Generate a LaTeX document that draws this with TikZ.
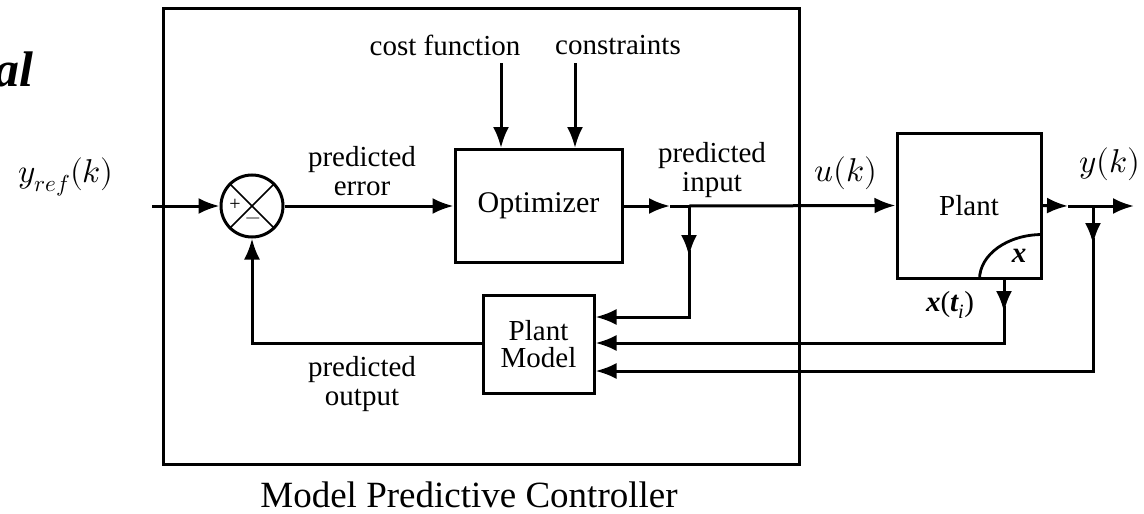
\documentclass[tikz,border=0pt]{standalone}
\usepackage{fontspec}
\usepackage{unicode-math}
\setmainfont{Liberation Serif}
\usetikzlibrary{arrows.meta,calc}
\begin{document}
\begin{tikzpicture}[x=1pt,y=-1pt,
  line width=3pt,
  arr/.style={-{Latex[length=21pt,width=16pt]}},
  blk/.style={draw, line width=3pt, inner sep=0pt},
  lbl/.style={font=\fontsize{29}{29}\selectfont, align=center, inner sep=0pt},
  mlbl/.style={font=\fontsize{33}{33}\selectfont, inner sep=0pt}]
\useasboundingbox (0,0) rectangle (1144,514);
% outer controller box
\node[blk, minimum width=636pt, minimum height=456pt] (mpc) at (481,236) {};
\node[font=\fontsize{37}{37}\selectfont, inner sep=0pt, anchor=base] (mpclbl) at (469,507) {Model Predictive Controller};
% partial title
\node[font=\fontsize{50}{50}\selectfont\bfseries\itshape, anchor=base east, inner sep=0pt] (title) at (35,86) {al};
% blocks
\node[blk, minimum width=167pt, minimum height=113pt, font=\fontsize{30}{30}\selectfont] (opt) at (538.5,206) {Optimizer};
\node[blk, minimum width=111pt, minimum height=98pt, align=center, font=\fontsize{29}{29}\selectfont] (pm) at (538.5,344) {Plant\\[-2pt]Model};
\node[blk, minimum width=144pt, minimum height=145pt, font=\fontsize{29}{29}\selectfont] (plant) at (969,205.5) {Plant};
\node[blk, circle, minimum size=62pt] (sum) at (252,206) {};
\draw[line width=1.6pt] (sum.north west) -- (sum.south east);
\draw[line width=1.6pt] (sum.north east) -- (sum.south west);
\node[font=\fontsize{20}{20}\selectfont, inner sep=0pt] (plus) at (235,205) {+};
\node[font=\fontsize{20}{20}\selectfont, inner sep=0pt] (minus) at (253,221) {$-$};
% arc in plant
\coordinate (arcA) at ($(plant.south east)+(-63,0)$);
\coordinate (arcB) at ($(plant.south east)+(0,-45)$);
\draw[line width=2.8pt] (arcA) .. controls ($(arcA)+(0,-25)$) and ($(arcB)+(-35,0)$) .. (arcB);
\node[font=\fontsize{29}{29}\selectfont\bfseries\itshape, inner sep=0pt] (xlbl) at (1019,256) {x};
% coordinates
\coordinate (in) at (152,206);
\coordinate (cf) at (501,63);
\coordinate (cs) at (575,63);
\coordinate (a1) at (670,206);
\coordinate (bi) at (689,206);
\coordinate (bi2) at (689,317);
\coordinate (a2) at (1068,206);
\coordinate (bo) at (1093,206);
\coordinate (out) at (1134,206);
\coordinate (bo2) at (1093,371);
\coordinate (xs) at (1004,278);
\coordinate (xs2) at (1004,343);
\coordinate (fb) at (252,343);
% labels
\node[lbl] (perr) at (362,171) {predicted\\error};
\node[lbl] (pin) at (712,170) {predicted\\input};
\node[lbl] (pout) at (362,384) {predicted\\output};
\node[lbl] (cfl) at (445,45) {cost function};
\node[lbl] (csl) at (618,45) {constraints};
\node[mlbl] (yref) at (66,177) {$y_{ref}(k)$};
\node[mlbl] (uk) at (846,173) {$u(k)$};
\node[mlbl] (yk) at (1110,164) {$y(k)$};
\node[font=\fontsize{29}{29}\selectfont, inner sep=0pt] (xti) at (950,305) {{\bfseries\itshape x}({\bfseries\itshape t}\textsubscript{\itshape i})};
% connectors
\draw[arr] (in) -- (sum.west);
\draw[arr] (sum.east) -- (opt.west);
\draw[arr] (cf) -- (cf |- opt.north);
\draw[arr] (cs) -- (cs |- opt.north);
\draw[arr] (opt.east) -- (a1);
\draw (a1) -- (bi);
\draw[arr] (bi) -- (plant.west);
\draw[arr] (bi) -- (689,256);
\draw[arr] (689,250) -- (bi2) -- (bi2 -| pm.east);
\draw[arr] (plant.east) -- (a2);
\draw (a2) -- (bo);
\draw[arr] (bo) -- (out);
\draw[arr] (bo) -- (1093,244);
\draw[arr] (1093,238) -- (bo2) -- (bo2 -| pm.east);
\draw[arr] (xs) -- (1004,312);
\draw[arr] (1004,306) -- (xs2) -- (xs2 -| pm.east);
\draw[arr] (pm.west |- fb) -- (fb) -- (sum.south);
\end{tikzpicture}
\end{document}
